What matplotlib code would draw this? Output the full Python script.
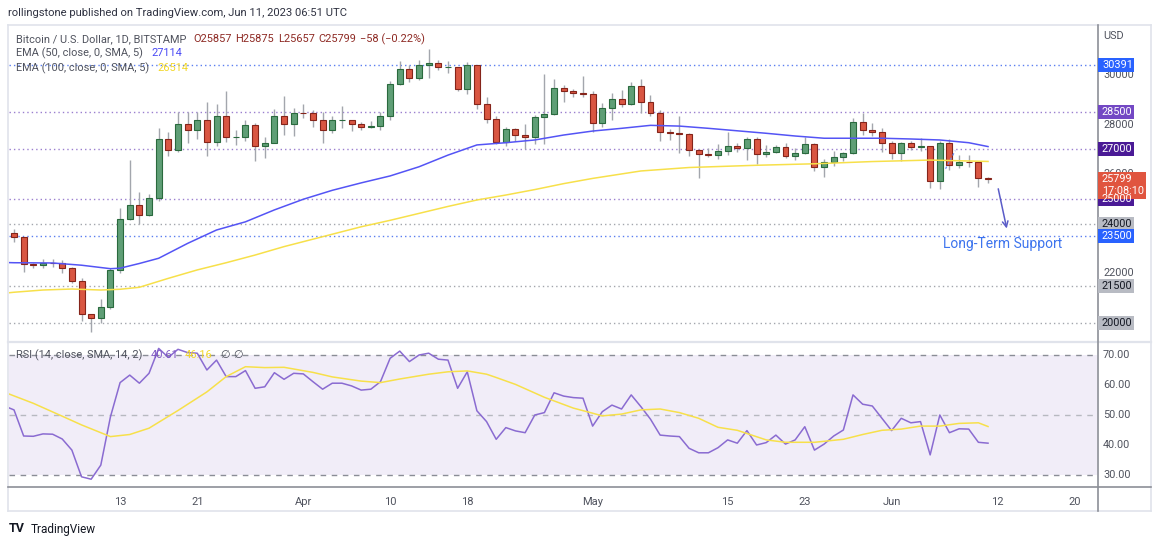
import numpy as np
import pandas as pd
import matplotlib
matplotlib.use("Agg")
import matplotlib.pyplot as plt
from matplotlib.patches import Rectangle
from matplotlib.transforms import IdentityTransform

plt.rcParams['font.family'] = ['Roboto', 'DejaVu Sans']

# ---- data (BTC/USD daily, Bitstamp) ----
start = pd.Timestamp('2023-03-02')
dates = pd.date_range('2023-03-02', '2023-06-11', freq='D')

opens = [23640, 23470, 22360, 22340, 22430, 22410, 22200, 21700, 20360, 20190,
         20630, 22150, 24200, 24750, 24370, 25050, 27430, 26970, 28040, 27770,
         28170, 27300, 28330, 27490, 27490, 28000, 27140, 27270, 28350, 28030,
         28480, 28450, 28200, 27800, 28170, 28170, 28030, 27920, 27950, 28330,
         29650, 30230, 29890, 30400, 30480, 30320, 30330, 29440, 30390, 28830,
         28240, 27280, 27820, 27600, 27520, 28310, 28430, 29470, 29340, 29260,
         29240, 28070, 28670, 29030, 28840, 29540, 28920, 28480, 27710, 27650,
         27640, 26960, 26810, 26790, 26920, 27150, 27040, 27400, 26800, 26890,
         27110, 26740, 26860, 27230, 26300, 26500, 26700, 26860, 28090, 27770,
         27700, 27250, 26850, 27270, 27100, 27120, 25740, 27250, 26370, 26500,
         26480, 25857]
highs = [23790, 23480, 22420, 22600, 22600, 22540, 22270, 21800, 20360, 20950,
         22200, 24640, 26570, 25280, 25200, 27860, 27700, 28520, 28500, 28500,
         28930, 28820, 29370, 27800, 28200, 28050, 27500, 28640, 29170, 28650,
         28830, 28590, 28510, 28350, 28750, 28200, 28100, 28150, 28500, 29770,
         30570, 30400, 30600, 31050, 30600, 30550, 30340, 30520, 30400, 29110,
         28350, 27900, 27850, 28020, 28400, 30040, 29850, 29600, 29450, 29960,
         29350, 28880, 29280, 29380, 29700, 29840, 29180, 28600, 27830, 28350,
         27660, 27000, 27050, 27200, 27720, 27270, 27480, 27510, 27190, 27160,
         27260, 27050, 27480, 27240, 26620, 26930, 26900, 28270, 28480, 28050,
         27850, 27350, 27300, 27350, 27470, 27130, 27350, 27400, 26770, 26780,
         26530, 25875]
lows = [23270, 22060, 22200, 22220, 22250, 22010, 21600, 20080, 19640, 20000,
        20560, 22000, 24150, 23990, 24300, 24900, 26750, 26900, 27270, 27400,
        26740, 27150, 27300, 27190, 27350, 26550, 26640, 27240, 27580, 27550,
        28270, 27900, 27260, 27680, 27860, 27730, 27800, 27880, 27800, 28200,
        29600, 29700, 29800, 29860, 30200, 30100, 29350, 29250, 28610, 28060,
        27210, 27150, 27350, 27000, 27200, 27200, 28400, 28900, 29100, 29130,
        27720, 27900, 28180, 28700, 28810, 28450, 28350, 27340, 27360, 26870,
        26750, 25850, 26700, 26600, 26770, 26900, 26570, 26410, 26680, 26840,
        26670, 26560, 26810, 26130, 25900, 26340, 26550, 26820, 27580, 27550,
        26910, 26600, 26540, 26990, 26950, 25430, 25400, 26170, 26240, 26280,
        25470, 25657]
closes = [23470, 22360, 22340, 22430, 22410, 22200, 21700, 20360, 20190, 20630,
          22150, 24200, 24750, 24370, 25050, 27430, 26970, 28040, 27770, 28170,
          27300, 28330, 27490, 27490, 28000, 27140, 27270, 28350, 28030, 28480,
          28450, 28200, 27800, 28170, 28170, 28030, 27920, 27950, 28330, 29650,
          30230, 29890, 30400, 30480, 30320, 30330, 29440, 30390, 28830, 28240,
          27280, 27820, 27600, 27520, 28310, 28430, 29470, 29340, 29260, 29240,
          28070, 28670, 29030, 28840, 29540, 28920, 28480, 27710, 27650, 27640,
          26960, 26810, 26790, 26920, 27150, 27040, 27400, 26800, 26890, 27110,
          26740, 26860, 27230, 26300, 26500, 26700, 26860, 28090, 27770, 27700,
          27250, 26850, 27270, 27100, 27120, 25740, 27250, 26370, 26500, 26480,
          25857, 25799]

ema50_dates = ['2023-03-01', '2023-03-02', '2023-03-06', '2023-03-09', '2023-03-12', '2023-03-13',
               '2023-03-15', '2023-03-17', '2023-03-20', '2023-03-23', '2023-03-26', '2023-03-29',
               '2023-04-01', '2023-04-04', '2023-04-07', '2023-04-10', '2023-04-13', '2023-04-16',
               '2023-04-19', '2023-04-22', '2023-04-25', '2023-04-28', '2023-05-01', '2023-05-04',
               '2023-05-07', '2023-05-10', '2023-05-13', '2023-05-16', '2023-05-19', '2023-05-22',
               '2023-05-25', '2023-05-28', '2023-05-31', '2023-06-03', '2023-06-06', '2023-06-09',
               '2023-06-11']
ema50 = [22440, 22430, 22420, 22330, 22190, 22210, 22400, 22610, 23210, 23750, 24080, 24560,
         24990, 25350, 25650, 25930, 26300, 26770, 27180, 27270, 27380, 27580, 27740, 27850,
         27970, 27940, 27850, 27750, 27650, 27540, 27450, 27450, 27450, 27420, 27380, 27270,
         27114]

ema100_dates = ['2023-03-01', '2023-03-02', '2023-03-05', '2023-03-08', '2023-03-11', '2023-03-13',
                '2023-03-15', '2023-03-18', '2023-03-21', '2023-03-24', '2023-03-27', '2023-03-30',
                '2023-04-01', '2023-04-04', '2023-04-07', '2023-04-10', '2023-04-13', '2023-04-16',
                '2023-04-19', '2023-04-22', '2023-04-25', '2023-04-28', '2023-05-01', '2023-05-06',
                '2023-05-11', '2023-05-18', '2023-05-24', '2023-05-30', '2023-06-05', '2023-06-11']
ema100 = [21200, 21240, 21330, 21370, 21330, 21360, 21440, 21800, 22140, 22430, 22740, 23080,
          23280, 23580, 23880, 24140, 24420, 24700, 24960, 25160, 25380, 25620, 25830, 26130,
          26270, 26360, 26420, 26510, 26570, 26514]

rsi_dates = pd.date_range('2023-03-01', '2023-06-11', freq='D')
rsi = [53.0,
       51.7, 43.0, 42.9, 43.7, 43.6, 42.0, 38.3, 29.4, 28.6, 33.3,
       49.4, 60.8, 63.3, 60.6, 63.9, 72.2, 69.2, 71.9, 70.8, 70.6,
       65.0, 68.3, 62.8, 62.8, 64.8, 58.9, 59.4, 64.1, 61.9, 63.9,
       63.7, 61.1, 58.6, 60.6, 60.6, 59.7, 58.3, 58.6, 61.1, 68.9,
       71.3, 67.8, 70.0, 70.6, 68.6, 68.3, 58.9, 64.4, 51.4, 47.8,
       41.9, 45.8, 44.7, 44.1, 50.0, 50.8, 57.4, 56.3, 55.8, 55.6,
       46.3, 51.1, 53.3, 52.0, 56.7, 52.8, 48.6, 43.3, 43.0, 42.8,
       38.9, 37.4, 37.4, 39.1, 41.7, 40.6, 44.8, 40.0, 40.8, 43.3,
       40.3, 41.7, 46.1, 38.3, 40.3, 43.0, 45.0, 56.7, 53.6, 53.0,
       48.9, 44.8, 48.9, 47.4, 47.8, 36.7, 50.0, 44.1, 45.4, 45.3,
       40.9, 40.61]

rsi_sma_dates = ['2023-03-01', '2023-03-04', '2023-03-07', '2023-03-09', '2023-03-12', '2023-03-14',
                 '2023-03-16', '2023-03-19', '2023-03-22', '2023-03-24', '2023-03-26', '2023-03-28',
                 '2023-03-30', '2023-04-02', '2023-04-04', '2023-04-07', '2023-04-09', '2023-04-11',
                 '2023-04-14', '2023-04-16', '2023-04-18', '2023-04-20', '2023-04-21', '2023-04-23',
                 '2023-04-26', '2023-04-29', '2023-05-01', '2023-05-02', '2023-05-04', '2023-05-06',
                 '2023-05-08', '2023-05-10', '2023-05-12', '2023-05-14', '2023-05-16', '2023-05-19',
                 '2023-05-21', '2023-05-24', '2023-05-27', '2023-05-29', '2023-05-31', '2023-06-02',
                 '2023-06-04', '2023-06-06', '2023-06-08', '2023-06-10', '2023-06-11']
rsi_sma = [57.6, 53.9, 49.6, 46.7, 42.8, 43.5, 45.6, 51.5, 57.7, 62.8, 66.1, 65.8,
           65.9, 64.2, 62.7, 61.3, 60.8, 62.0, 63.6, 64.4, 64.7, 63.6, 62.5, 60.2,
           55.9, 52.3, 50.6, 49.7, 50.3, 51.7, 52.0, 50.8, 48.9, 45.9, 44.9, 41.7,
           40.9, 40.9, 41.9, 43.5, 44.9, 45.3, 46.3, 46.3, 47.2, 47.4, 46.16]

level_prices = [30391, 28500, 27000, 25000, 24000, 23500, 21500, 20000]
level_kind = ['blue', 'purple', 'dark', 'dark', 'gray', 'blue', 'gray', 'gray']
price_ticks = [20000, 22000, 24000, 26000, 28000, 30000]
rsi_ticks = [30, 40, 50, 60, 70]
tick_dates = ['2023-03-13', '2023-03-21', '2023-04-01', '2023-04-10', '2023-04-18', '2023-05-01',
              '2023-05-15', '2023-05-23', '2023-06-01', '2023-06-12', '2023-06-20']
tick_labels = ['13', '21', 'Apr', '10', '18', 'May', '15', '23', 'Jun', '12', '20']

# ---- layout helpers (pixel positions of the screenshot) ----
W, H = 1160, 545
def fx(x):
    return x / W
def fy(y):
    return 1 - y / H

def day(d):
    return (pd.to_datetime(d) - start).days

fig = plt.figure(figsize=(W / 100, H / 100), dpi=100)
fig.patch.set_facecolor('white')

ax = fig.add_axes([fx(9), fy(341), fx(1097) - fx(9), fy(26) - fy(341)])
rax = fig.add_axes([fx(9), fy(487), fx(1097) - fx(9), fy(343) - fy(487)])
for a in (ax, rax):
    for s in a.spines.values():
        s.set_visible(False)
    a.set_xlim(-0.52, 112.3)
    a.set_yticks([])
ax.set_xticks([])
ax.set_ylim(19274, 31976)
rax.set_ylim(26, 74)

# ---- candles ----
x = np.array([day(d) for d in dates])
up_fill, up_edge = '#5f9e76', '#2a6a3e'
dn_fill, dn_edge = '#d95642', '#85241a'
for xi, o, h, l, c in zip(x, opens, highs, lows, closes):
    up = c >= o
    ax.vlines(xi, l, h, color='#a3a6ad', lw=1, zorder=2)
    ax.bar(xi, c - o, bottom=o, width=0.62,
           color=up_fill if up else dn_fill,
           edgecolor=up_edge if up else dn_edge, lw=0.8, zorder=3)

ax.plot([day(d) for d in ema50_dates], ema50, color='#5454f5', lw=1.1, zorder=4)
ax.plot([day(d) for d in ema100_dates], ema100, color='#f7e04a', lw=1.1, zorder=4)

line_col = {'blue': '#5b7ff0', 'purple': '#9a7fcf', 'dark': '#9a7fcf', 'gray': '#a3a6ad'}
tag_fc = {'blue': '#2962ff', 'purple': '#7348c4', 'dark': '#4a1a96', 'gray': '#b8bbc3'}
tag_tc = {'blue': 'white', 'purple': 'white', 'dark': 'white', 'gray': '#131722'}
for p, k in zip(level_prices, level_kind):
    ax.axhline(p, color=line_col[k], lw=1, ls=(0, (1, 2.2)), zorder=1)

# drawing: arrow to long-term support
ax.annotate('', xy=(day('2023-06-13'), 23700), xytext=(day('2023-06-12'), 25520),
            arrowprops=dict(arrowstyle='->', color='#5a5cc8', lw=1.1, mutation_scale=10))
ax.plot([day('2023-06-06') + 0.6, day('2023-06-08') - 0.4], [26220, 26950],
        color='#6b8cf0', lw=0.9, ls=(0, (2, 2)), zorder=5)
ax.text(day('2023-06-06') + 0.3, 23190, 'Long-Term Support', color='#3d74ee',
        fontsize=10, va='center', ha='left')

# ---- RSI pane ----
rax.axhspan(30, 70, color='#7e57c2', alpha=0.1, lw=0)
for lv in (70, 30):
    rax.axhline(lv, color='#8a8d96', lw=1, ls=(0, (4, 4)))
rax.axhline(50, color='#b7b9c0', lw=1, ls=(0, (4, 4)))
rax.plot([day(d) for d in rsi_dates], rsi, color='#8a6bd1', lw=1.1, zorder=3)
rax.plot([day(d) for d in rsi_sma_dates], rsi_sma, color='#f7e04a', lw=1.1, zorder=3)
rax.set_xticks([day(d) for d in tick_dates], tick_labels)
rax.tick_params(axis='x', length=0, pad=7, labelsize=8, colors='#50535e')

# ---- frame and separators ----
def hline(y, x0, x1, color, lw):
    fig.add_artist(plt.Line2D([fx(x0), fx(x1)], [fy(y), fy(y)], color=color, lw=lw))
def vline(xp, y0, y1, color, lw):
    fig.add_artist(plt.Line2D([fx(xp), fx(xp)], [fy(y0), fy(y1)], color=color, lw=lw))

hline(25, 8, 1151, '#e0e3eb', 1.2)
hline(511, 8, 1151, '#e0e3eb', 1.2)
vline(8, 25, 511, '#e0e3eb', 1.2)
vline(1151, 25, 511, '#e0e3eb', 1.2)
hline(342, 8, 1151, '#e0e3eb', 1.6)
hline(487, 8, 1151, '#8c8f97', 1.2)
vline(1097.5, 25, 511, '#8c8f97', 1.2)

# ---- price axis ----
for t in price_ticks:
    yd = ax.transData.transform((0, t))[1]
    fig.text(1103, yd, str(t), transform=IdentityTransform(), fontsize=7.8,
             color='#50535e', va='center', ha='left')
fig.text(1103, H - 36, 'USD', transform=IdentityTransform(), fontsize=7.8,
         color='#50535e', va='center', ha='left')

def tag(price, label, fc, tc, h=14, w=36, dy=0):
    yd = ax.transData.transform((0, price))[1] + dy
    fig.patches.append(Rectangle((1098, yd - h / 2), w, h, transform=IdentityTransform(),
                                 fc=fc, ec='none', zorder=5))
    fig.text(1102, yd, label, transform=IdentityTransform(), fontsize=7.8, color=tc,
             va='center', ha='left', zorder=6, linespacing=1.25)

for p, k in zip(level_prices, level_kind):
    tag(p, str(p), tag_fc[k], tag_tc[k])
tag(closes[-1], f'{closes[-1]}\n17:08:10', '#e0553f', 'white', h=27, w=48, dy=-6)

for t in rsi_ticks:
    yd = rax.transData.transform((0, t))[1]
    fig.text(1103, yd, f'{t:.2f}', transform=IdentityTransform(), fontsize=7.8,
             color='#50535e', va='center', ha='left')

# ---- legends and header ----
def put(xp, yp, s, color, size=7.9, **kw):
    fig.text(fx(xp), fy(yp), s, color=color, fontsize=size, va='center', ha='left', **kw)

put(8, 13, 'rollingstone published on TradingView.com, Jun 11, 2023 06:51 UTC', '#2f3241', 8.1)
put(16, 39, 'Bitcoin / U.S. Dollar, 1D, BITSTAMP', '#50535e')
red = '#8e2a24'
put(193, 39, f'O{opens[-1]}', red)
put(235, 39, f'H{highs[-1]}', red)
put(278, 39, f'L{lows[-1]}', red)
put(318, 39, f'C{closes[-1]}', red)
put(360, 39, f'\u2212{opens[-1] - closes[-1]} (\u22120.22%)', red)
put(16, 53, 'EMA (50, close, 0, SMA, 5)', '#50535e')
put(151, 53, f'{ema50[-1]}', '#4a4af5')
put(16, 68, 'EMA (100, close, 0, SMA, 5)', '#50535e')
put(157, 68, f'{ema100[-1]}', '#f2d72a')
put(16, 355, 'RSI (14, close, SMA, 14, 2)', '#50535e')
put(151, 355, f'{rsi[-1]:.2f}', '#7e57c2')
put(185, 355, f'{rsi_sma[-1]:.2f}', '#f2d72a')
put(220, 355, '\u2205', '#50535e')
put(233, 355, '\u2205', '#50535e')

put(9, 529, 'TV', '#131722', 9, fontweight='bold')
put(31, 529, 'TradingView', '#131722', 8.5)

fig.savefig('out.png', dpi=100)
